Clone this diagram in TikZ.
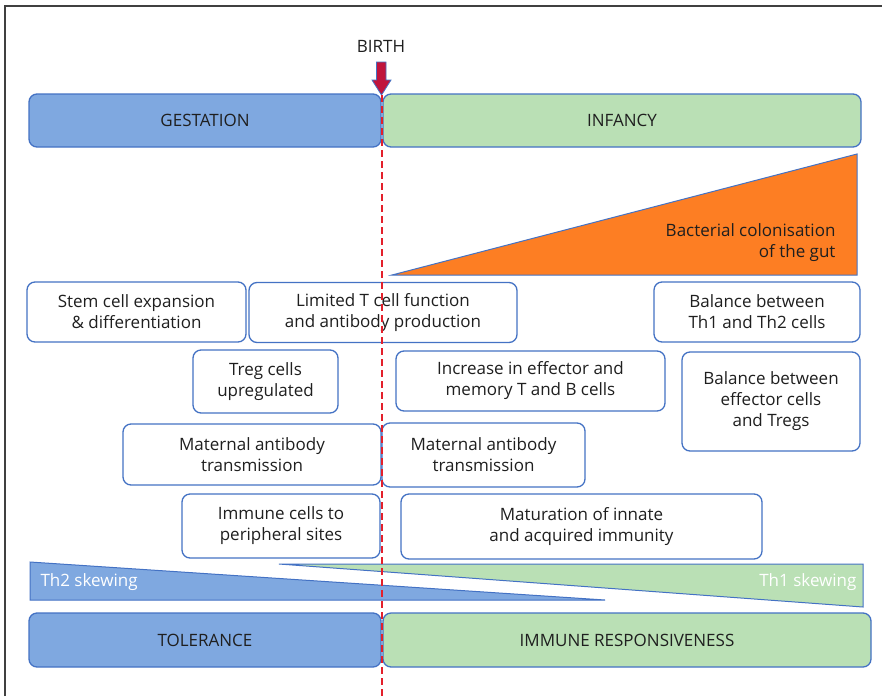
\documentclass[tikz,border=0pt]{standalone}
\usepackage{fontspec}
\setmainfont{Open Sans}
\begin{document}
\begin{tikzpicture}[x=1pt,y=-1pt,
  every node/.style={font=\fontsize{17}{21}\selectfont, text=black!88},
  edgeblue/.style={draw=colBorder, line width=1.3pt},
  bluebar/.style={edgeblue, fill=colBlue, rounded corners=8pt, inner sep=0pt, align=center},
  greenbar/.style={edgeblue, fill=colGreen, rounded corners=8pt, inner sep=0pt, align=center},
  wbox/.style={edgeblue, fill=white, rounded corners=8pt, inner sep=0pt, align=center},
  tri/.style={draw=colBorder, line width=1pt},
  birthline/.style={draw=colRed, line width=1.3pt, dash pattern=on 7pt off 4pt}
]
\definecolor{colBorder}{HTML}{4472C4}
\definecolor{colBlue}{HTML}{7FA8E0}
\definecolor{colGreen}{HTML}{BAE0B5}
\definecolor{colOrange}{HTML}{FD7E23}
\definecolor{colRed}{HTML}{E3202B}
\definecolor{colCrimson}{HTML}{C0143C}
\useasboundingbox (0,0) rectangle (882,696);
\fill[white] (0,0) rectangle (882,696);
% outer frame (partial)
\draw[black!75, line width=1.2pt] (5,696) -- (5,6) -- (882,6);

% birth label and arrow
\node (birth) at (381,46) {BIRTH};
\draw[fill=colCrimson, draw=colBorder, line width=0.8pt]
  (376.5,62) -- (386,62) -- (386,80) -- (391,80) -- (381.5,95) -- (372,80) -- (376.5,80) -- cycle;

% top bars
\node[bluebar, minimum width=352pt, minimum height=53pt] (gest) at (205,120.5) {GESTATION};
\node[greenbar, minimum width=478pt, minimum height=53pt] (inf) at (622,120.5) {INFANCY};

% bacterial colonisation triangle
\draw[tri, fill=colOrange] (392,275) -- (857,154) -- (857,275) -- cycle;
\node[anchor=east, align=right] (bact) at (839,243) {Bacterial colonisation\\of the gut};

% boxes
\node[wbox, minimum width=219pt, minimum height=60pt] (stem) at (136.5,312) {Stem cell expansion\\\& differentiation};
\node[wbox, minimum width=268pt, minimum height=60pt] (limT) at (383,312.5) {Limited T cell function\\and antibody production};
\node[wbox, minimum width=206pt, minimum height=60pt] (th12) at (757,312) {Balance between\\Th1 and Th2 cells};
\node[wbox, minimum width=145pt, minimum height=63pt] (treg) at (265.5,381.5) {Treg cells\\upregulated};
\node[wbox, minimum width=269pt, minimum height=60pt] (incr) at (530.5,381) {Increase in effector and\\memory T and B cells};
\node[wbox, minimum width=178pt, minimum height=99pt] (effT) at (771,401.5) {Balance between\\effector cells\\and Tregs};
\node[wbox, minimum width=258pt, minimum height=61pt] (matL) at (252,454.5) {Maternal antibody\\transmission};
\node[wbox, minimum width=203pt, minimum height=64pt] (matR) at (483.5,455) {Maternal antibody\\transmission};
\node[wbox, minimum width=198pt, minimum height=64pt] (immc) at (281,526) {Immune cells to\\peripheral sites};
\node[wbox, minimum width=361pt, minimum height=65pt] (matur) at (581.5,526.5) {Maturation of innate\\and acquired immunity};

% skewing triangles
\draw[tri, fill=colBlue] (30,562) -- (30,600) -- (605,600) -- cycle;
\node[anchor=west, text=white] (th2) at (37,582) {Th2 skewing};
\draw[tri, fill=colGreen] (279,564) -- (863,564) -- (863,607) -- cycle;
\node[anchor=east, text=white] (th1) at (860,582) {Th1 skewing};

% bottom bars
\node[bluebar, minimum width=352pt, minimum height=54pt] (tol) at (205,640) {TOLERANCE};
\node[greenbar, minimum width=488pt, minimum height=54pt] (resp) at (627,640) {IMMUNE RESPONSIVENESS};

% birth line
\coordinate (lineend) at (382,696);
\draw[birthline] (382,95) -- (lineend);
\end{tikzpicture}
\end{document}
